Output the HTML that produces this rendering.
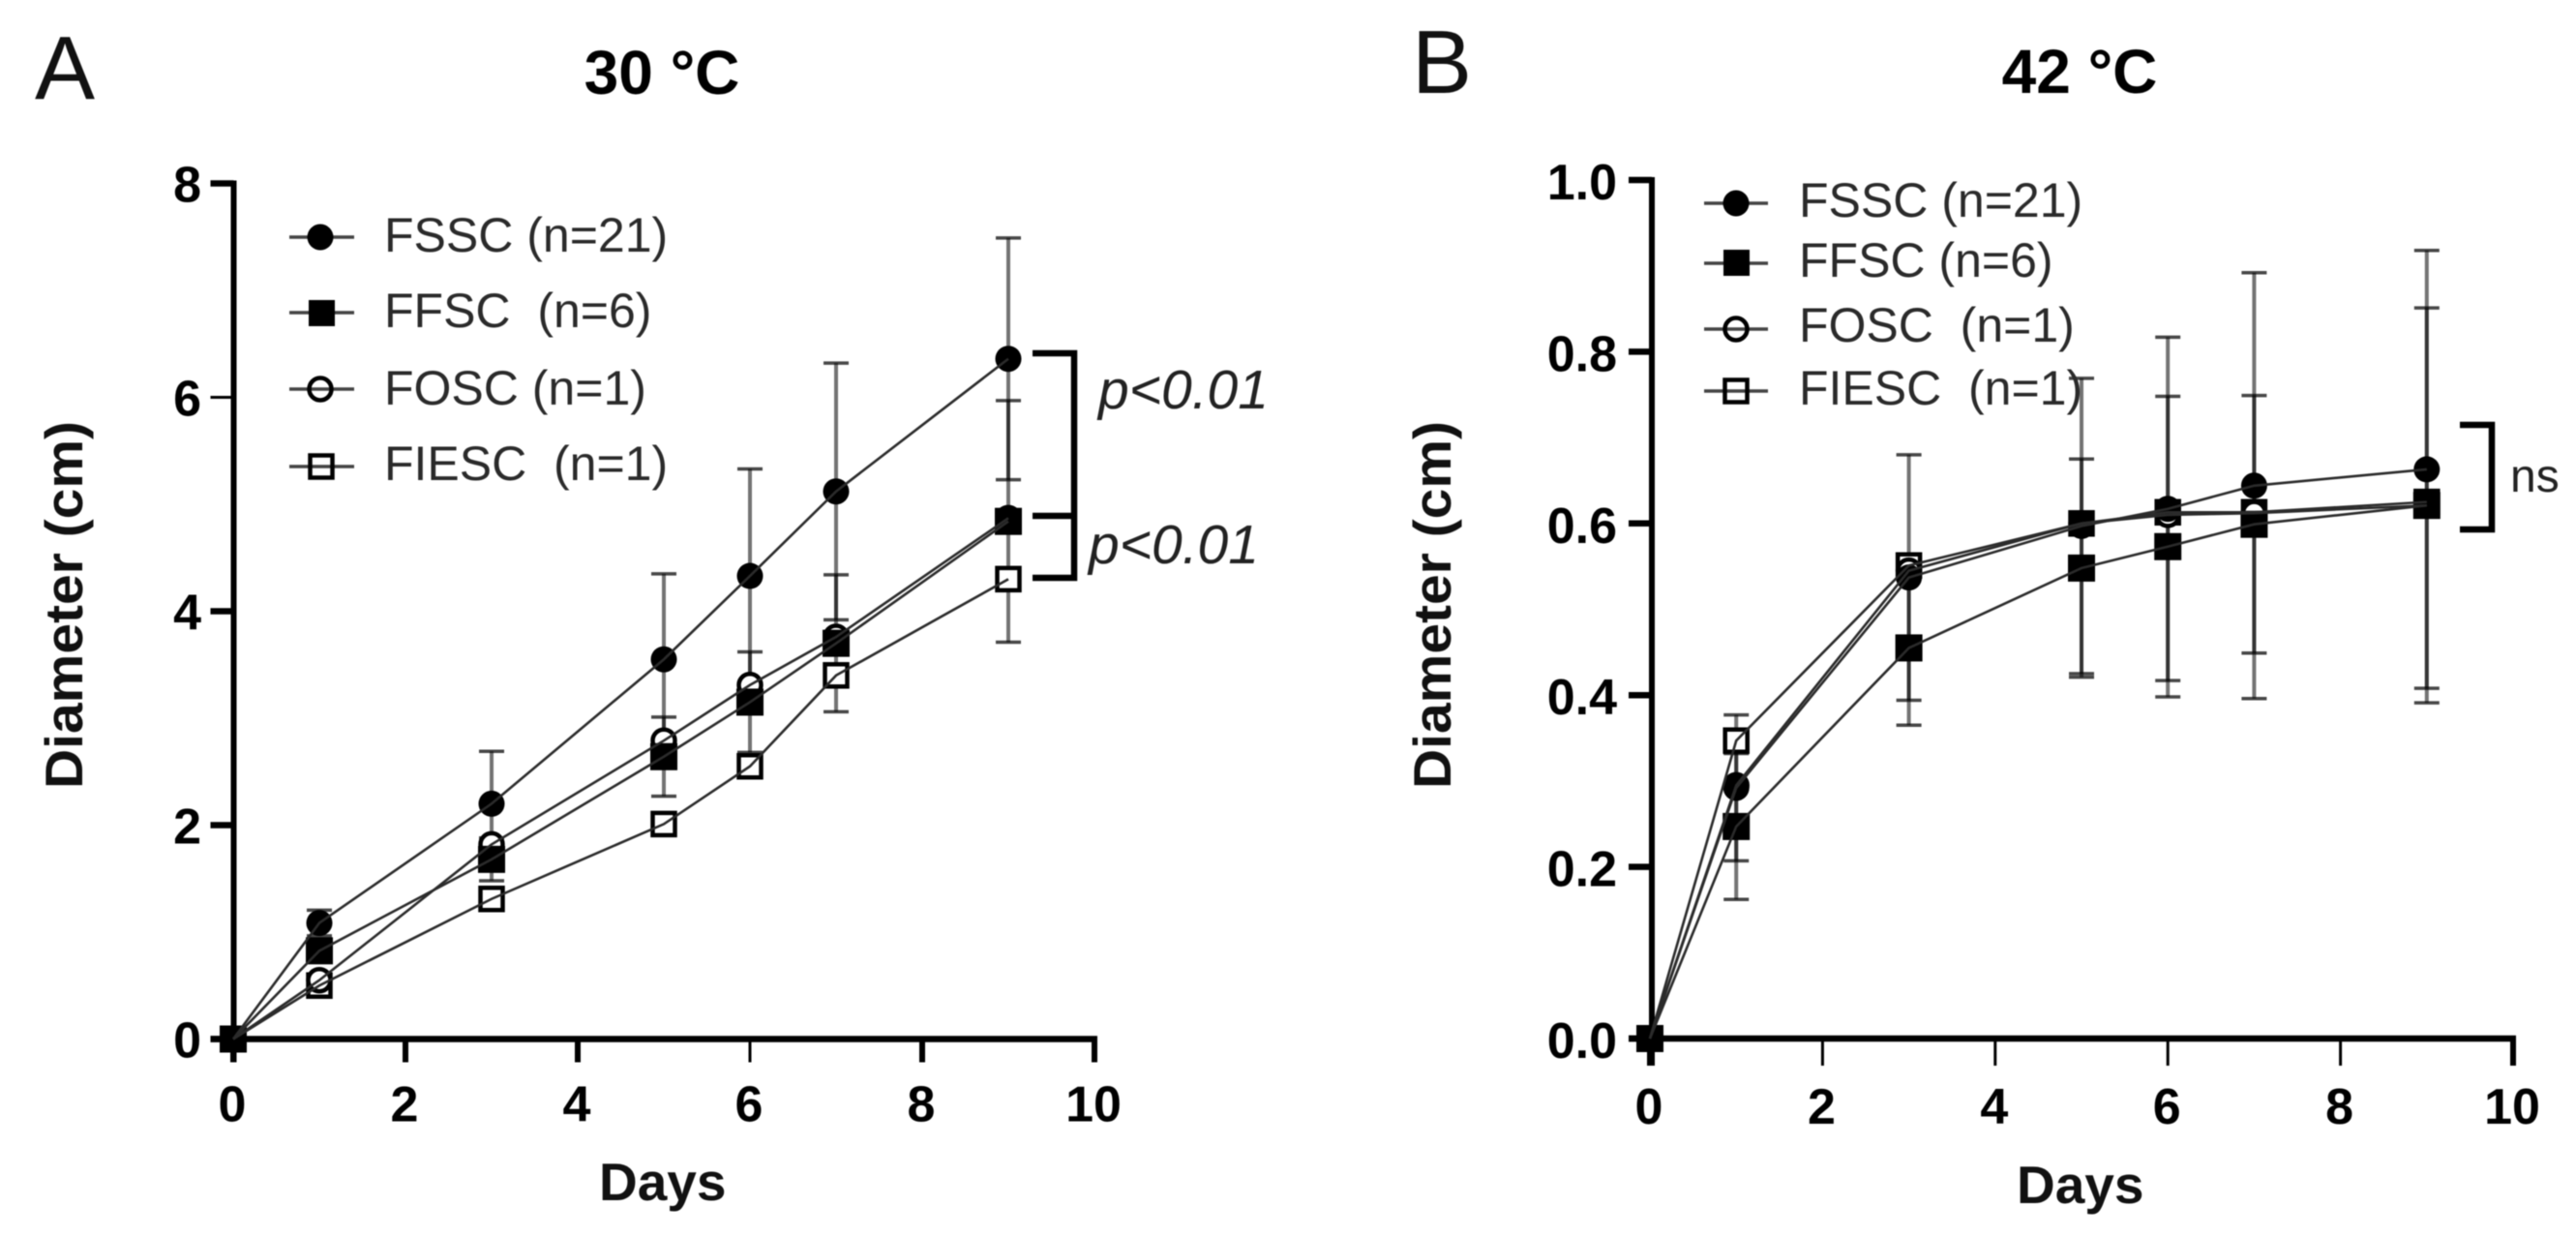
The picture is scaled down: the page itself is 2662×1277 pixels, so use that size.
<!DOCTYPE html>
<html lang="en">
<head>
<meta charset="utf-8">
<title>Diameter growth at 30 °C and 42 °C</title>
<style>
html,body{margin:0;padding:0;background:#fff;width:2662px;height:1277px;overflow:hidden}
svg{display:block;filter:blur(.6px)}
text{font-family:"Liberation Sans",Arial,sans-serif;white-space:pre}
.tick{font-weight:700;font-size:52px;fill:#000}
.ttl{font-weight:700;font-size:64px;fill:#000;text-anchor:middle}
.axt{font-weight:700;font-size:55px;fill:#111}
.pan{font-size:93px;fill:#111}
.leg{font-size:50px;fill:#2a2a2a}
.sig{font-size:57px;font-style:italic;fill:#222}
</style>
</head>
<body>
<svg id="fig" width="2662" height="1277" viewBox="0 0 2662 1277" xmlns="http://www.w3.org/2000/svg">
  <text class="pan" x="36" y="102">A</text>
  <text class="pan" x="1459" y="96">B</text>
  <text class="ttl" x="684" y="97">30 °C</text>
  <text class="ttl" x="2149" y="96">42 °C</text>
  <text class="axt" transform="translate(85,815) rotate(-90)" textLength="380" lengthAdjust="spacingAndGlyphs">Diameter (cm)</text>
  <text class="axt" transform="translate(1499,815) rotate(-90)" textLength="380" lengthAdjust="spacingAndGlyphs">Diameter (cm)</text>
  <text class="axt" x="619" y="1240">Days</text>
  <text class="axt" x="2084" y="1243">Days</text>

  <g id="panelA"></g>
  <g id="panelB"></g>

  <g>
    <text class="leg" x="397" y="260">FSSC (n=21)</text>
    <text class="leg" x="397" y="338">FFSC  (n=6)</text>
    <text class="leg" x="397" y="418">FOSC (n=1)</text>
    <text class="leg" x="397" y="496">FIESC  (n=1)</text>
    <path d="M299 245H366M299 323H366M299 402H366M299 482H366" stroke="#444" stroke-width="3.5" fill="none"/>
    <circle cx="331" cy="245" r="13.5" fill="#000"/>
    <rect x="319" y="310" width="27" height="27" fill="#000"/>
    <circle cx="331" cy="402" r="11.5" fill="none" stroke="#000" stroke-width="4.5"/>
    <rect x="320.5" y="470.5" width="23" height="23" fill="none" stroke="#000" stroke-width="4.5"/>
  </g>
  <g>
    <text class="leg" x="1859" y="224">FSSC (n=21)</text>
    <text class="leg" x="1859" y="286">FFSC (n=6)</text>
    <text class="leg" x="1859" y="353">FOSC  (n=1)</text>
    <text class="leg" x="1859" y="418">FIESC  (n=1)</text>
    <path d="M1761 210H1827M1761 272H1827M1761 340H1827M1761 404H1827" stroke="#444" stroke-width="3.5" fill="none"/>
    <circle cx="1794" cy="210" r="13.5" fill="#000"/>
    <rect x="1781" y="258" width="27" height="27" fill="#000"/>
    <circle cx="1794" cy="340" r="11.5" fill="none" stroke="#000" stroke-width="4.5"/>
    <rect x="1782.5" y="392.5" width="23" height="23" fill="none" stroke="#000" stroke-width="4.5"/>
  </g>

  <path d="M1067 365H1110V597H1067M1067 533H1110" fill="none" stroke="#000" stroke-width="6.5"/>
  <text class="sig" x="1135" y="422">p&lt;0.01</text>
  <text class="sig" x="1125" y="582">p&lt;0.01</text>
  <path d="M2542 439H2575V547H2542" fill="none" stroke="#000" stroke-width="6.5"/>
  <text x="2594" y="508" font-size="48" fill="#222">ns</text>
</svg>

<script>
// Panel A (30 °C)
const daysA = [0, 1, 3, 5, 6, 7, 9];
const fsscA = [0, 1.085, 2.20, 3.55, 4.33, 5.12, 6.36];
const ffscA = [0, 0.825, 1.68, 2.64, 3.15, 3.70, 4.84];
const foscA = [0, 0.55, 1.82, 2.79, 3.31, 3.76, 4.87];
const fiescA = [0, 0.50, 1.31, 2.01, 2.55, 3.40, 4.30];
const fsscErrA = [0, 0.12, 0.49, 0.80, 1.00, 1.20, 1.13];
const ffscErrA = [0, 0.10, 0.20, 0.37, 0.47, 0.64, 1.13];
const xTicksA = [0, 2, 4, 6, 8, 10];
const yTicksA = [0, 2, 4, 6, 8];
const yLabelsA = ['0', '2', '4', '6', '8'];

// Panel B (42 °C)
const daysB = [0, 1, 3, 5, 6, 7, 9];
const fsscB = [0, 0.292, 0.537, 0.597, 0.617, 0.644, 0.663];
const ffscB = [0, 0.247, 0.455, 0.548, 0.573, 0.599, 0.621];
const foscB = [0, 0.295, 0.545, 0.600, 0.610, 0.612, 0.621];
const fiescB = [0, 0.347, 0.551, 0.600, 0.613, 0.613, 0.625];
const fsscErrB = [0, 0.085, 0.143, 0.172, 0.200, 0.248, 0.255];
const ffscErrB = [0, 0.085, 0.090, 0.127, 0.175, 0.150, 0.230];
const xTicksB = [0, 2, 4, 6, 8, 10];
const yTicksB = [0, 0.2, 0.4, 0.6, 0.8, 1.0];
const yLabelsB = ['0.0', '0.2', '0.4', '0.6', '0.8', '1.0'];

const SVG_NS = 'http://www.w3.org/2000/svg';

function mk(parent, tag, attrs, name) {
  const el = document.createElementNS(SVG_NS, tag);
  for (const k in attrs) el.setAttribute(k, attrs[k]);
  
  
  parent.appendChild(el);
  return el;
}

function drawPanel(p) {
  const g = document.getElementById(p.id);
  const x = p.x, y = p.y;
  const base = y(0), left = p.axisX, right = x(p.xTicks[p.xTicks.length - 1]);
  const top = y(p.yTicks[p.yTicks.length - 1]);

  // axes
  mk(g, 'line', {x1: left, x2: left, y1: top - 3, y2: base + p.tickLen, stroke: '#000', 'stroke-width': 6}, 'y-axis-line');
  mk(g, 'line', {x1: left - 24, x2: right + 3, y1: base, y2: base, stroke: '#000', 'stroke-width': 6.5}, 'x-axis-line');

  // y ticks and labels
  p.yTicks.forEach(function (v, i) {
    const thin = p.thinYTicks.indexOf(v) >= 0;
    mk(g, 'line', {x1: left - 24, x2: left, y1: y(v), y2: y(v), stroke: '#000', 'stroke-width': thin ? 3 : 6.5}, 'y-tick');
    const t = mk(g, 'text', {x: p.yLabelRight, y: y(v) + p.labelDyY, class: 'tick', 'text-anchor': 'end'}, 'y-tick-label');
    t.textContent = p.yLabels[i];
  });

  // x ticks and labels
  p.xTicks.forEach(function (d) {
    const thin = p.thinTicks.indexOf(d) >= 0;
    mk(g, 'line', {x1: x(d), x2: x(d), y1: base, y2: base + p.tickLen, stroke: '#000', 'stroke-width': thin ? 3 : 6}, 'x-tick');
    const t = mk(g, 'text', {x: x(d) - 1, y: base + p.labelDy, class: 'tick', 'text-anchor': 'middle'}, 'x-tick-label');
    t.textContent = String(d);
  });

  // error bars (translucent so that overlaps darken)
  [[p.ffsc, p.ffscErr, 'ffsc'], [p.fssc, p.fsscErr, 'fssc']].forEach(function (s) {
    p.days.forEach(function (d, i) {
      if (!s[1][i]) return;
      const hi = s[0][i] + s[1][i], lo = s[0][i] - s[1][i];
      mk(g, 'line', {x1: x(d), x2: x(d), y1: y(hi), y2: y(lo), stroke: '#000', 'stroke-opacity': 0.55, 'stroke-width': 4}, 'error-bar-' + s[2]);
      mk(g, 'line', {x1: x(d) - 13, x2: x(d) + 13, y1: y(hi), y2: y(hi), stroke: '#000', 'stroke-opacity': 0.72, 'stroke-width': 3.5}, 'error-cap-' + s[2]);
      mk(g, 'line', {x1: x(d) - 13, x2: x(d) + 13, y1: y(lo), y2: y(lo), stroke: '#000', 'stroke-opacity': 0.72, 'stroke-width': 3.5}, 'error-cap-' + s[2]);
    });
  });

  // markers, bottom to top
  p.days.forEach(function (d, i) {
    mk(g, 'rect', {x: x(d) - 11.5, y: y(p.fiesc[i]) - 11.5, width: 23, height: 23, fill: '#fff', stroke: '#000', 'stroke-width': 4.5}, 'marker-fiesc');
  });
  p.days.forEach(function (d, i) {
    mk(g, 'circle', {cx: x(d), cy: y(p.fosc[i]), r: 11.5, fill: '#fff', stroke: '#000', 'stroke-width': 4.5}, 'marker-fosc');
  });
  p.days.forEach(function (d, i) {
    mk(g, 'circle', {cx: x(d), cy: y(p.fssc[i]), r: 13.5, fill: '#000'}, 'marker-fssc');
  });
  p.days.forEach(function (d, i) {
    mk(g, 'rect', {x: x(d) - 14, y: y(p.ffsc[i]) - 14, width: 28, height: 28, fill: '#000'}, 'marker-ffsc');
  });

  // series lines
  [[p.fssc, 'fssc'], [p.ffsc, 'ffsc'], [p.fosc, 'fosc'], [p.fiesc, 'fiesc']].forEach(function (s) {
    const pts = p.days.map(function (d, i) { return x(d) + ',' + y(s[0][i]); }).join(' ');
    mk(g, 'polyline', {points: pts, fill: 'none', stroke: '#2b2b2b', 'stroke-width': 2.6}, 'series-line-' + s[1]);
  });
}

drawPanel({
  id: 'panelA',
  x: function (d) { return 241 + d * 89; },
  y: function (v) { return 1073.5 - v * 110.5; },
  axisX: 241.5, yLabelRight: 208, tickLen: 24, labelDy: 85, labelDyY: 19,
  thinTicks: [6], thinYTicks: [6],
  days: daysA, fssc: fsscA, ffsc: ffscA, fosc: foscA, fiesc: fiescA,
  fsscErr: fsscErrA, ffscErr: ffscErrA,
  xTicks: xTicksA, yTicks: yTicksA, yLabels: yLabelsA
});

drawPanel({
  id: 'panelB',
  x: function (d) { return 1705 + d * 89.2; },
  y: function (v) { return 1073 - v * 887; },
  axisX: 1707, yLabelRight: 1671, tickLen: 28, labelDy: 88, labelDyY: 20,
  thinTicks: [2, 4, 6, 8], thinYTicks: [],
  days: daysB, fssc: fsscB, ffsc: ffscB, fosc: foscB, fiesc: fiescB,
  fsscErr: fsscErrB, ffscErr: ffscErrB,
  xTicks: xTicksB, yTicks: yTicksB, yLabels: yLabelsB
});
</script>
</body>
</html>
